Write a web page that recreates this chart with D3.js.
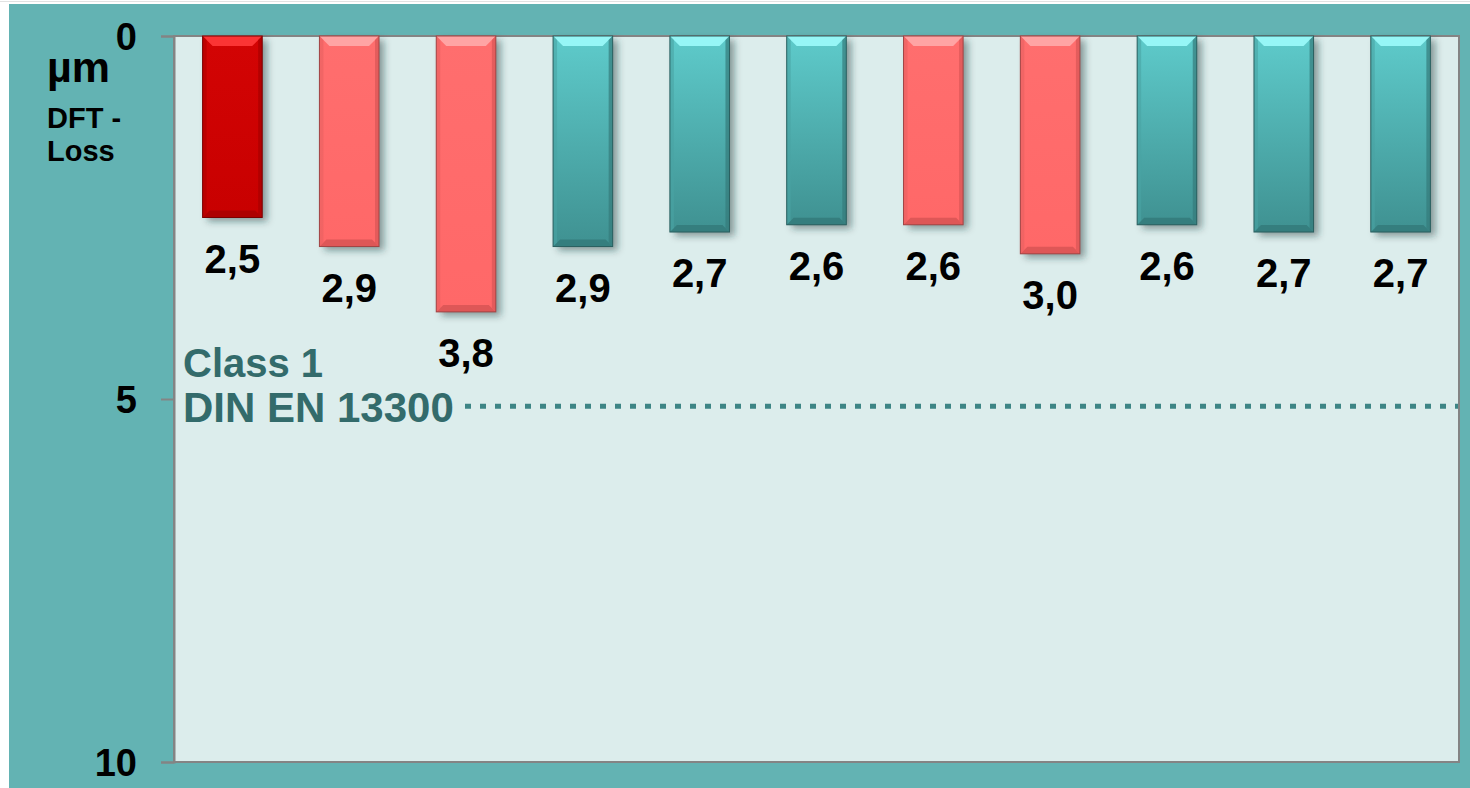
<!DOCTYPE html>
<html>
<head>
<meta charset="utf-8">
<script src="https://cdn.jsdelivr.net/npm/d3@7"></script>
<style>
  html, body { margin: 0; padding: 0; background: #ffffff; }
  svg { display: block; }
  text { font-family: Arial, "Liberation Sans", sans-serif; font-weight: bold; }
</style>
</head>
<body>
<svg id="chart" width="1470" height="788"></svg>
<script>
// DFT loss per sample (µm); bars hang down from 0
const samples = ["S1", "S2", "S3", "S4", "S5", "S6", "S7", "S8", "S9", "S10", "S11"];
const loss = [2.5, 2.9, 3.8, 2.9, 2.7, 2.6, 2.6, 3.0, 2.6, 2.7, 2.7];
const group = ["dark", "red", "red", "teal", "teal", "teal", "red", "red", "teal", "teal", "teal"];
const labels = ["2,5", "2,9", "3,8", "2,9", "2,7", "2,6", "2,6", "3,0", "2,6", "2,7", "2,7"];
const yTicks = [0, 5, 10];
const classLimit = 5.1;
const classText = ["Class 1", "DIN EN 13300"];

const W = 1470, H = 788;
const plot = { left: 174, right: 1459, top: 36, bottom: 762 };

const svg = d3.select("#chart");
const defs = svg.append("defs");

// palette per bar group: body gradient, top bevel, bottom bevel, side edges
const palette = {
  dark: { top: "#d30404", bottom: "#c80000", bevelTop: "#ff3a3a", bevelBottom: "#a80000", side: "#b00000", stroke: "#7a0000" },
  red:  { top: "#ff6e6e", bottom: "#ff6868", bevelTop: "#ffaaaa", bevelBottom: "#d85555", side: "#e86060", stroke: "#a04444" },
  teal: { top: "#5ecbcb", bottom: "#3f9191", bevelTop: "#9cfbfb", bevelBottom: "#347a7a", side: "#4aa4a4", stroke: "#2a5f5f" }
};
Object.entries(palette).forEach(([k, p]) => {
  const g = defs.append("linearGradient").attr("id", "g-" + k)
    .attr("x1", 0).attr("y1", 0).attr("x2", 0).attr("y2", 1);
  g.append("stop").attr("offset", "0%").attr("stop-color", p.top);
  g.append("stop").attr("offset", "100%").attr("stop-color", p.bottom);
});
const blur = defs.append("filter").attr("id", "shadow")
  .attr("x", "-30%").attr("y", "-10%").attr("width", "160%").attr("height", "130%");
blur.append("feGaussianBlur").attr("stdDeviation", 3.5);

// frame: white margin strips, teal panel, pale plot area
svg.append("rect").attr("x", 0).attr("y", 0).attr("width", W).attr("height", H).attr("fill", "#ffffff");
svg.append("line").attr("x1", 0).attr("x2", W).attr("y1", 1.5).attr("y2", 1.5)
  .attr("stroke", "#e2e2e2").attr("stroke-width", 1);
svg.append("rect").attr("x", 9).attr("y", 4).attr("width", W - 9).attr("height", H - 4).attr("fill", "#63b3b3");
svg.append("rect").attr("x", plot.left).attr("y", plot.top)
  .attr("width", plot.right - plot.left).attr("height", plot.bottom - plot.top)
  .attr("fill", "#dcedec");

const x = d3.scaleBand().domain(samples).range([plot.left, plot.right]).paddingInner(0.49).paddingOuter(0.245);
const y = d3.scaleLinear().domain([0, 10]).range([plot.top, plot.bottom]);

// plot border and axis with ticks extending to the left
svg.append("rect").attr("x", plot.left).attr("y", plot.top)
  .attr("width", plot.right - plot.left).attr("height", plot.bottom - plot.top)
  .attr("fill", "none").attr("stroke", "#848484").attr("stroke-width", 2);

const yAxis = d3.axisLeft(y).tickValues(yTicks).tickSize(13).tickPadding(24).tickFormat(d3.format("d"));
const ax = svg.append("g").attr("transform", `translate(${plot.left},0)`).call(yAxis);
ax.select(".domain").attr("stroke", "#848484").attr("stroke-width", 2);
ax.selectAll(".tick line").attr("stroke", "#848484").attr("stroke-width", 2);
ax.selectAll(".tick text").attr("fill", "#000").attr("font-size", 38)
  .attr("font-family", "Arial, 'Liberation Sans', sans-serif").attr("font-weight", "bold")
  .attr("dy", "0.36em");

// axis titles
svg.append("text").attr("x", 47).attr("y", 82).attr("font-size", 43).attr("fill", "#000").text("µm");
svg.append("text").attr("x", 47).attr("y", 128).attr("font-size", 29).attr("fill", "#000").text("DFT -");
svg.append("text").attr("x", 47).attr("y", 161).attr("font-size", 29).attr("fill", "#000").text("Loss");

// bars with bevelled faces and soft drop shadow
const bw = x.bandwidth();
const bars = svg.append("g").selectAll("g").data(samples).join("g");

bars.append("rect")
  .attr("x", d => x(d) + 5).attr("y", y(0) + 4)
  .attr("width", bw).attr("height", (d, i) => y(loss[i]) - y(0))
  .attr("fill", "rgba(20,50,50,0.45)").attr("filter", "url(#shadow)");

bars.append("rect")
  .attr("x", d => x(d)).attr("y", y(0))
  .attr("width", bw).attr("height", (d, i) => y(loss[i]) - y(0))
  .attr("fill", (d, i) => `url(#g-${group[i]})`);

const bt = 10, bb = 7, bs = 4;
bars.append("path")
  .attr("d", (d, i) => {
    const x0 = x(d), x1 = x0 + bw, y0 = y(0);
    return `M${x0},${y0}L${x1},${y0}L${x1 - bt},${y0 + bt}L${x0 + bt},${y0 + bt}Z`;
  })
  .attr("fill", (d, i) => palette[group[i]].bevelTop).attr("opacity", 0.9);
bars.append("path")
  .attr("d", (d, i) => {
    const x0 = x(d), x1 = x0 + bw, y1 = y(loss[i]);
    return `M${x0},${y1}L${x1},${y1}L${x1 - bb},${y1 - bb}L${x0 + bb},${y1 - bb}Z`;
  })
  .attr("fill", (d, i) => palette[group[i]].bevelBottom).attr("opacity", 0.85);
bars.append("path")
  .attr("d", (d, i) => {
    const x0 = x(d), y0 = y(0), y1 = y(loss[i]);
    return `M${x0},${y0}L${x0 + bs},${y0 + bs}L${x0 + bs},${y1 - bs}L${x0},${y1}Z`;
  })
  .attr("fill", (d, i) => palette[group[i]].side).attr("opacity", 0.6);
bars.append("path")
  .attr("d", (d, i) => {
    const x1 = x(d) + bw, y0 = y(0), y1 = y(loss[i]);
    return `M${x1},${y0}L${x1 - bs},${y0 + bs}L${x1 - bs},${y1 - bs}L${x1},${y1}Z`;
  })
  .attr("fill", (d, i) => palette[group[i]].bevelBottom).attr("opacity", 0.7);
bars.append("rect")
  .attr("x", d => x(d)).attr("y", y(0))
  .attr("width", bw).attr("height", (d, i) => y(loss[i]) - y(0))
  .attr("fill", "none").attr("stroke", (d, i) => palette[group[i]].stroke).attr("stroke-width", 1);

// value labels under each bar
bars.append("text")
  .attr("x", d => x(d) + bw / 2)
  .attr("y", (d, i) => y(loss[i]) + 55)
  .attr("text-anchor", "middle").attr("font-size", 40).attr("fill", "#000")
  .text((d, i) => labels[i]);

// class limit marker
const limitY = y(classLimit);
svg.append("line")
  .attr("x1", 465).attr("x2", plot.right - 1)
  .attr("y1", limitY).attr("y2", limitY)
  .attr("stroke", "#3d8585").attr("stroke-width", 5).attr("stroke-dasharray", "6 9");
svg.append("text").attr("x", 183).attr("y", 377).attr("font-size", 40).attr("fill", "#336b6b").text(classText[0]);
svg.append("text").attr("x", 183).attr("y", 422).attr("font-size", 42).attr("fill", "#336b6b").text(classText[1]);
</script>
</body>
</html>
